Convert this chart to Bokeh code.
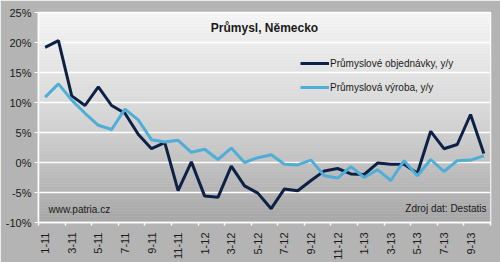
import numpy as np
from bokeh.plotting import figure
from bokeh.models import FixedTicker, Legend, LegendItem, Range1d
from bokeh.embed import file_html
from bokeh.resources import INLINE

months = ["1-11", "2-11", "3-11", "4-11", "5-11", "6-11", "7-11", "8-11", "9-11", "10-11", "11-11", "12-11",
          "1-12", "2-12", "3-12", "4-12", "5-12", "6-12", "7-12", "8-12", "9-12", "10-12", "11-12", "12-12",
          "1-13", "2-13", "3-13", "4-13", "5-13", "6-13", "7-13", "8-13", "9-13", "10-13"]
orders = [19.2, 20.3, 11.1, 9.5, 12.6, 9.5, 8.2, 4.7, 2.3, 3.3, -4.7, 0.1,
          -5.6, -5.8, -0.6, -3.9, -5.1, -7.7, -4.4, -4.7, -3.0, -1.4, -1.0, -1.9,
          -2.0, -0.1, -0.3, -0.3, -1.8, 5.2, 2.3, 3.0, 8.0, 1.5]
production = [10.9, 13.1, 10.4, 8.2, 6.2, 5.5, 8.9, 7.1, 3.8, 3.4, 3.7, 1.7,
              2.2, 0.5, 2.4, 0.0, 0.8, 1.3, -0.3, -0.4, 0.4, -2.2, -2.6, -0.7,
              -2.5, -1.2, -3.0, 0.3, -2.2, 0.5, -1.5, 0.3, 0.4, 1.1]
y_ticks = [-10, -5, 0, 5, 10, 15, 20, 25]
series_names = ["Průmyslové objednávky, y/y", "Průmyslová výroba, y/y"]
title_text = "Průmysl, Německo"
source_text = "Zdroj dat: Destatis"
web_text = "www.patria.cz"

x = list(range(len(months)))
y_lo, y_hi = -10, 25
x_lo, x_hi = -0.5, len(months) - 0.5

p = figure(width=500, height=262, output_backend="svg", toolbar_location=None,
           x_range=Range1d(x_lo, x_hi), y_range=Range1d(y_lo, y_hi),
           min_border_left=38, min_border_right=10, min_border_top=12, min_border_bottom=38,
           background_fill_color="#d4d4d4", border_fill_color="#b4b4b4",
           outline_line_color="white", outline_line_width=1.5)

# plot-area gradient (bands)
nb = 70
edges = np.linspace(y_lo, y_hi, nb + 1)
tn = ((edges[:-1] + edges[1:]) / 2 - y_lo) / (y_hi - y_lo)
def shade(t):
    if t > 0.5:
        return 214 + (247 - 214) * (t - 0.5) / 0.5
    return 166 + (214 - 166) * t / 0.5
band_colors = ["#%02x%02x%02x" % ((int(shade(t)),) * 3) for t in tn]
p.quad(left=[x_lo] * nb, right=[x_hi] * nb, bottom=list(edges[:-1]), top=list(edges[1:] + 0.05),
       fill_color=band_colors, line_color=None)

p.grid.grid_line_color = None
p.hspan(y=y_ticks, line_color="white", line_width=1.5)

r1 = p.line(x, orders, line_color="#0d2147", line_width=3)
r2 = p.line(x, production, line_color="#4eaed8", line_width=3)

# axes
p.yaxis.ticker = FixedTicker(ticks=y_ticks)
p.yaxis.major_label_overrides = {v: f"{v}%" for v in y_ticks}
p.yaxis.axis_line_color = "white"
p.yaxis.axis_line_width = 1.5
p.yaxis.major_tick_line_color = "white"
p.yaxis.major_tick_out = 4
p.yaxis.major_tick_in = 0
p.yaxis.minor_tick_line_color = None
p.yaxis.major_label_text_font_size = "11px"
p.yaxis.major_label_text_color = "#1a1a1a"
p.yaxis.major_label_standoff = 3

label_pos = list(range(0, len(months), 2))
p.xaxis.ticker = FixedTicker(ticks=label_pos, minor_ticks=[i - 0.5 for i in range(0, len(months) + 1, 2)])
p.xaxis.major_label_overrides = {i: months[i] for i in label_pos}
p.xaxis.major_label_orientation = np.pi / 2
p.xaxis.axis_line_color = "white"
p.xaxis.axis_line_width = 1.5
p.xaxis.major_tick_line_color = None
p.xaxis.minor_tick_line_color = "white"
p.xaxis.minor_tick_out = 3
p.xaxis.minor_tick_in = 0
p.xaxis.minor_tick_line_width = 1.5
p.xaxis.major_label_text_font_size = "11px"
p.xaxis.major_label_text_color = "#1a1a1a"
p.xaxis.major_label_standoff = 4

# legend
legend = Legend(items=[LegendItem(label=series_names[0], renderers=[r1]),
                       LegendItem(label=series_names[1], renderers=[r2])],
                location=(262, 125), padding=0, margin=0, spacing=4,
                glyph_width=29, glyph_height=20, label_standoff=1,
                label_text_font_size="10px", label_text_color="#1a1a1a",
                background_fill_color=None, border_line_color=None)
p.add_layout(legend)

# texts
p.text(x=[16.5], y=[22.5], text=[title_text], text_align="center", text_baseline="middle",
       text_font_size="12px", text_font_style="bold", text_color="#1a1a1a")
p.text(x=[0.25], y=[-7.8], text=[web_text], text_align="left", text_baseline="middle",
       text_font_size="10px", text_color="#1a1a1a")
p.text(x=[33.2], y=[-7.7], text=[source_text], text_align="right", text_baseline="middle",
       text_font_size="10px", text_color="#1a1a1a")

open("out.html", "w").write(file_html(p, INLINE))
